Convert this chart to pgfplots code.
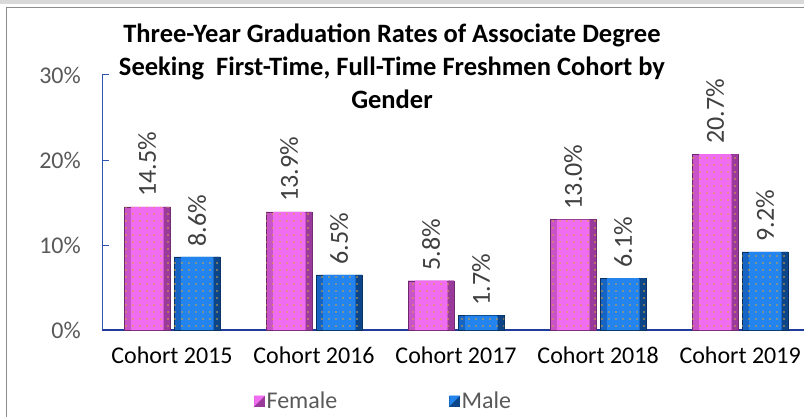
\documentclass[border=0pt]{standalone}
\usepackage{fontspec}
\setmainfont{Carlito}
\usepackage{pgfplots}
\pgfplotsset{compat=1.18}
\usetikzlibrary{patterns.meta}
\definecolor{FemL}{HTML}{F06CF0}
\definecolor{FemA}{HTML}{C854C8}
\definecolor{FemB}{HTML}{9A3A9A}
\definecolor{MalL}{HTML}{2284EC}
\definecolor{MalA}{HTML}{1664C4}
\definecolor{MalB}{HTML}{0D4688}
\definecolor{DotC}{HTML}{E0A438}
\definecolor{YAx}{HTML}{2F55B0}
\definecolor{XAx}{HTML}{1F3C9C}
\definecolor{TickC}{HTML}{595959}
\definecolor{LblC}{HTML}{404040}
\pgfplotstableread{
x female male
0 14.5 8.6
1 13.9 6.5
2 5.8 1.7
3 13.0 6.1
4 20.7 9.2
}\gradtable
\begin{document}
\begin{tikzpicture}[x=1bp,y=1bp]
\useasboundingbox (0,0) rectangle (804,417);
\fill[white] (0,0) rectangle (804,417);
\fill[black!15] (0,413) rectangle (804,417);
\draw[black!45, line width=1bp] (6,0) -- (6,409) -- (804,409);
\begin{axis}[
  at={(102bp,87bp)}, anchor=south west,
  scale only axis, width=702bp, height=255bp,
  xmin=-0.493, xmax=4.45, ymin=0, ymax=30,
  clip=false,
  ybar, bar width=46bp,
  axis x line*=bottom, axis y line*=left,
  x axis line style={draw=XAx, line width=1.6bp, -},
  y axis line style={draw=YAx, line width=1bp, -},
  xtick={0,1,2,3,4},
  xticklabels={Cohort 2015,Cohort 2016,Cohort 2017,Cohort 2018,Cohort 2019},
  x tick style={draw=none},
  ytick={0,10,20,30},
  yticklabels={0\%,10\%,20\%,30\%},
  y tick style={draw=YAx, line width=1bp},
  tick align=inside, major tick length=7bp,
  xticklabel style={font=\fontsize{24bp}{28bp}\selectfont, text=black, anchor=north, inner sep=0pt, yshift=-17bp},
  yticklabel style={font=\fontsize{24bp}{28bp}\selectfont, text=TickC, anchor=east, inner sep=0pt, xshift=-21bp},
  lbl/.style={nodes near coords={\pgfmathprintnumber[fixed,fixed zerofill,precision=1,assume math mode=true]{\pgfplotspointmeta}\%},
    every node near coord/.append style={rotate=90, anchor=west, font=\fontsize{26bp}{30bp}\selectfont, text=LblC, inner xsep=10bp, inner ysep=0pt}},
  legend style={at={(0.2165,-0.278)}, anchor=west, draw=none, fill=none, legend columns=2,
    font=\fontsize{24bp}{28bp}\selectfont, text=TickC, inner sep=0pt,
    /tikz/every even column/.append style={column sep=110bp}},
]
% Female bars: base, right dark strip, bright centre, dots
\addplot[lbl, draw=FemB!70!black, line width=0.4bp, fill=FemA, bar shift=-25bp, bar width=46bp,
  legend image code/.code={\fill[FemB] (0bp,-5bp) rectangle (10bp,5bp);\fill[FemL] (0bp,5bp) -- (10bp,5bp) -- (0bp,-5bp) -- cycle;}]
  table[x=x, y=female] {\gradtable};
\addlegendentry{Female}
\addplot[forget plot, draw=none, fill=FemB, bar shift=-5bp, bar width=6bp] table[x=x, y=female] {\gradtable};
\addplot[forget plot, draw=none, fill=FemL, bar shift=-25bp, bar width=32bp] table[x=x, y=female] {\gradtable};
\addplot[forget plot, draw=none, pattern={Dots[distance=7bp, radius=0.9bp]}, pattern color=DotC, bar shift=-25bp, bar width=46bp] table[x=x, y=female] {\gradtable};
% Male bars
\addplot[lbl, draw=MalB!70!black, line width=0.4bp, fill=MalA, bar shift=25bp, bar width=46bp,
  legend image code/.code={\fill[MalB] (0bp,-5bp) rectangle (10bp,5bp);\fill[MalL] (0bp,5bp) -- (10bp,5bp) -- (0bp,-5bp) -- cycle;}]
  table[x=x, y=male] {\gradtable};
\addlegendentry{Male}
\addplot[forget plot, draw=none, fill=MalB, bar shift=45bp, bar width=6bp] table[x=x, y=male] {\gradtable};
\addplot[forget plot, draw=none, fill=MalL, bar shift=25bp, bar width=32bp] table[x=x, y=male] {\gradtable};
\addplot[forget plot, draw=none, pattern={Dots[distance=7bp, radius=0.9bp]}, pattern color=DotC, bar shift=25bp, bar width=46bp] table[x=x, y=male] {\gradtable};
\end{axis}
\node[align=center, font=\fontsize{26.5bp}{33bp}\selectfont\bfseries, text=black] at (392,351)
  {Three-Year Graduation Rates of Associate Degree\\Seeking\ \ First-Time, Full-Time Freshmen Cohort by\\Gender};
\end{tikzpicture}
\end{document}
